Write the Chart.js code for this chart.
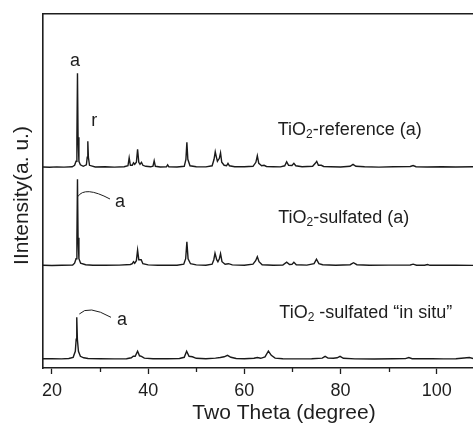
<!DOCTYPE html>
<html>
<head>
<meta charset="utf-8">
<script src="https://cdn.jsdelivr.net/npm/chart.js@4.4.1/dist/chart.umd.min.js"></script>
<style>
html,body{margin:0;padding:0;background:#fff;overflow:hidden;}
#wrap{width:473px;height:429px;position:relative;}
canvas{display:block;}
</style>
</head>
<body>
<div id="wrap"><canvas id="c" width="473" height="429"></canvas></div>
<script>
// ---- Data (two theta in degrees, intensity in arbitrary units) ----
const xTicks = [20, 40, 60, 80, 100];
const minorTicks = [30, 50, 70, 90];
const xMin = 18.13, xMax = 107.55;
const yMax = 354;

// vertical offsets of the stacked patterns (a.u.)
const refOffset = 200.7;
const sulfOffset = 102.3;
const situOffset = 8.7;

// TiO2-reference (a)
const refX = [18.1,19.5,21,22.5,24.2,24.7,25.0,25.18,25.3,25.42,25.6,25.9,26.5,27.15,27.33,27.45,27.57,27.8,29,31,33,35,35.8,36.05,36.3,36.7,36.95,37.2,37.55,37.8,38.05,38.3,38.6,38.9,39.5,40.5,41.0,41.25,41.5,42.5,43.8,44.05,44.3,46,47.5,47.85,48.05,48.25,48.7,50,52,53.3,53.7,53.95,54.2,54.4,54.8,55.05,55.3,55.8,56.3,56.6,56.9,58,60,61.8,62.4,62.7,63.0,63.6,64.1,64.6,66,67.5,68.4,68.8,69.2,69.9,70.3,70.7,72,74.2,74.75,75.05,75.4,76.0,76.5,78,80,82,82.6,83.2,85,88,91,94.5,95.1,95.7,98,101,104,107.6];
const refI = [0.3,0,0.4,0.2,0.5,2,6,30,94,30,6,2.5,1,2.5,10,26,10,2,0.3,0.5,0.2,0.6,1.5,9.5,2,2,4.5,3,5,18,5,3,5,2,1,0.5,1.2,6.5,1,0.3,0.5,2.5,0.5,0.3,1,8,25,8,1.5,0.6,0.4,1.5,8,15.5,10,6,9,14.5,5,2,1.5,4,1.5,0.5,0.5,1,5,11.5,4,1.5,2,0.8,0.6,0.4,1.5,5.5,2,1.8,4,1.5,0.5,1,4,6,2,2,0.8,0.5,0.3,1,3,1,0.5,0.2,0.6,0.8,1.8,0.6,0.3,0.5,0.3,0.5];

// TiO2-sulfated (a)
const sulfX = [18.1,20,22,24.3,24.7,25.0,25.18,25.3,25.42,25.6,25.95,27,28.5,31,34,36.3,36.7,36.95,37.2,37.55,37.8,38.05,38.55,38.9,40,42,44,46,47.4,47.8,48.05,48.3,48.8,50,52,53.3,53.65,53.9,54.25,54.5,54.8,55.05,55.35,56,56.7,57.5,60,61.8,62.35,62.7,63.05,63.7,66,68,68.8,69.4,69.9,70.3,70.8,73,74.5,75.0,75.5,76.3,79,82,82.7,83.4,86,90,94.5,95.1,95.8,97.5,98.1,98.6,101,104,107.6];
const sulfI = [0.5,0.2,0.5,0.6,2.5,7,28,86.5,28,7,2.5,1,0.5,0.4,0.6,1.2,2,4,2.5,5,15.5,6,6,2,0.8,0.4,0.6,0.5,1.5,7,24,7,2,0.8,0.5,1.5,6,12.5,6,4,7,12,4,1.5,2,0.8,0.5,1.5,5,9,4,1,0.5,0.7,3.5,1.2,1.3,3.5,1,0.6,2,6.5,2,1,0.4,1,3,1,0.5,0.6,0.7,1.5,0.5,0.5,1.2,0.4,0.4,0.6,0.3];

// TiO2-sulfated "in situ"
const situX = [18.1,20,22,23.5,24.4,24.85,25.03,25.15,25.28,25.5,25.9,26.6,27.5,30,33,35.5,36.5,36.9,37.3,37.8,38.2,38.6,39.2,41,44,46.5,47.5,48.0,48.5,49.2,50,52,54,55,55.8,56.5,57.2,58.3,60,62,62.7,63.4,64.3,65.0,65.6,66.4,68,71,74,76.2,76.8,77.4,78.5,79.3,79.9,80.6,83,87,91,93.5,94.2,94.9,97,99,101.5,104,106.8,107.6];
const situI = [0.5,0.6,0.4,0.8,2,8,20,42,20,8,3,1.5,0.8,0.5,0.4,0.6,1.5,3,3,8,3.5,3,1.2,0.6,0.5,0.8,2,8,3,2.5,1,0.6,1.2,1.8,2.5,4,2,0.8,0.6,1,1.8,1,2.5,8.3,4,1.2,0.6,0.4,0.6,1.2,3,1.2,1,1.5,3,1,0.4,0.3,0.5,0.7,1.8,0.6,0.5,0.7,0.4,0.5,1.8,0.8];

// Text annotations (positions in data units)
const peakLabels = [
  {text: 'a', x: 24.78, y: 302},
  {text: 'r', x: 28.78, y: 242},
  {text: 'a', x: 34.14, y: 161.3},
  {text: 'a', x: 34.56, y: 43}
];
const sampleLabels = [
  {pre: 'TiO', sub: '2', post: '-reference (a)', x: 66.93, y: 233},
  {pre: 'TiO', sub: '2', post: '-sulfated (a)', x: 67.06, y: 144.7},
  {pre: 'TiO', sub: '2', post: ' -sulfated \u201cin situ\u201d', x: 67.27, y: 50.3}
];
const arcs = [
  {p0: [25.35, 171.3], c: [26.81, 182.45], p2: [32.06, 169]},
  {p0: [25.68, 54], c: [27.54, 63.65], p2: [32.27, 50.7]}
];
const xTitle = 'Two Theta (degree)';
const yTitle = 'IIntensity(a. u.)';

// ---- Chart ----
const FONT = '"Liberation Sans", Arial, Helvetica, sans-serif';
const INK = '#1e1e1e';

function toPts(xs, ys, off) { return xs.map((x, i) => ({x: x, y: ys[i] + off})); }

const annotate = {
  id: 'annotate',
  afterDatasetsDraw(chart) {
    const ctx = chart.ctx;
    const xs = chart.scales.x, ys = chart.scales.y;
    ctx.save();
    ctx.fillStyle = INK;
    ctx.strokeStyle = INK;
    // minor ticks
    ctx.lineWidth = 1.3;
    const bottom = chart.chartArea.bottom;
    minorTicks.forEach(v => {
      const px = Math.round(xs.getPixelForValue(v)) + 0.5;
      ctx.beginPath(); ctx.moveTo(px, bottom); ctx.lineTo(px, bottom + 4); ctx.stroke();
    });
    // peak labels
    ctx.font = '18px ' + FONT;
    ctx.textAlign = 'center';
    ctx.textBaseline = 'alphabetic';
    peakLabels.forEach(l => ctx.fillText(l.text, xs.getPixelForValue(l.x), ys.getPixelForValue(l.y)));
    // arcs
    ctx.lineWidth = 1;
    arcs.forEach(a => {
      ctx.beginPath();
      ctx.moveTo(xs.getPixelForValue(a.p0[0]), ys.getPixelForValue(a.p0[1]));
      ctx.quadraticCurveTo(xs.getPixelForValue(a.c[0]), ys.getPixelForValue(a.c[1]),
                           xs.getPixelForValue(a.p2[0]), ys.getPixelForValue(a.p2[1]));
      ctx.stroke();
    });
    // sample labels with subscript
    ctx.textAlign = 'left';
    sampleLabels.forEach(l => {
      let px = xs.getPixelForValue(l.x);
      const py = ys.getPixelForValue(l.y);
      ctx.font = '18px ' + FONT;
      ctx.fillText(l.pre, px, py); px += ctx.measureText(l.pre).width;
      ctx.font = '12px ' + FONT;
      ctx.fillText(l.sub, px, py + 3); px += ctx.measureText(l.sub).width;
      ctx.font = '18px ' + FONT;
      ctx.fillText(l.post, px, py);
    });
    // axis titles
    ctx.font = '21px ' + FONT;
    ctx.textAlign = 'center';
    ctx.fillText(xTitle, 284, 419);
    ctx.translate(22, 195.5);
    ctx.rotate(-Math.PI / 2);
    ctx.textBaseline = 'middle';
    ctx.fillText(yTitle, 0, 0);
    ctx.restore();
  }
};

const lineStyle = {borderColor: '#1a1a1a', borderWidth: 1.4, pointRadius: 0, tension: 0, fill: false};

new Chart(document.getElementById('c'), {
  type: 'line',
  data: {
    datasets: [
      Object.assign({label: 'TiO2-reference (a)', data: toPts(refX, refI, refOffset)}, lineStyle),
      Object.assign({label: 'TiO2-sulfated (a)', data: toPts(sulfX, sulfI, sulfOffset)}, lineStyle),
      Object.assign({label: 'TiO2-sulfated "in situ"', data: toPts(situX, situI, situOffset)}, lineStyle)
    ]
  },
  options: {
    responsive: false,
    animation: false,
    devicePixelRatio: 1,
    layout: {padding: 0},
    plugins: {legend: {display: false}, tooltip: {enabled: false}},
    scales: {
      x: {
        type: 'linear', position: 'bottom', min: xMin, max: xMax,
        afterBuildTicks: s => { s.ticks = xTicks.map(v => ({value: v})); },
        afterFit: s => { s.height = 61; },
        grid: {display: true, drawOnChartArea: false, drawTicks: true, tickLength: 6, tickColor: INK, tickWidth: 1.3},
        border: {display: true, color: INK, width: 1.6},
        ticks: {color: INK, font: {family: FONT, size: 18}, padding: 6, maxRotation: 0, callback: v => String(v)}
      },
      x2: {
        type: 'linear', position: 'top', min: xMin, max: xMax,
        afterFit: s => { s.height = 14; },
        grid: {display: false},
        border: {display: true, color: INK, width: 1.6},
        ticks: {display: false}
      },
      y: {
        type: 'linear', position: 'left', min: 0, max: yMax,
        afterFit: s => { s.width = 43; },
        grid: {display: false},
        border: {display: true, color: INK, width: 1.6},
        ticks: {display: false}
      }
    }
  },
  plugins: [annotate]
});
</script>
</body>
</html>
